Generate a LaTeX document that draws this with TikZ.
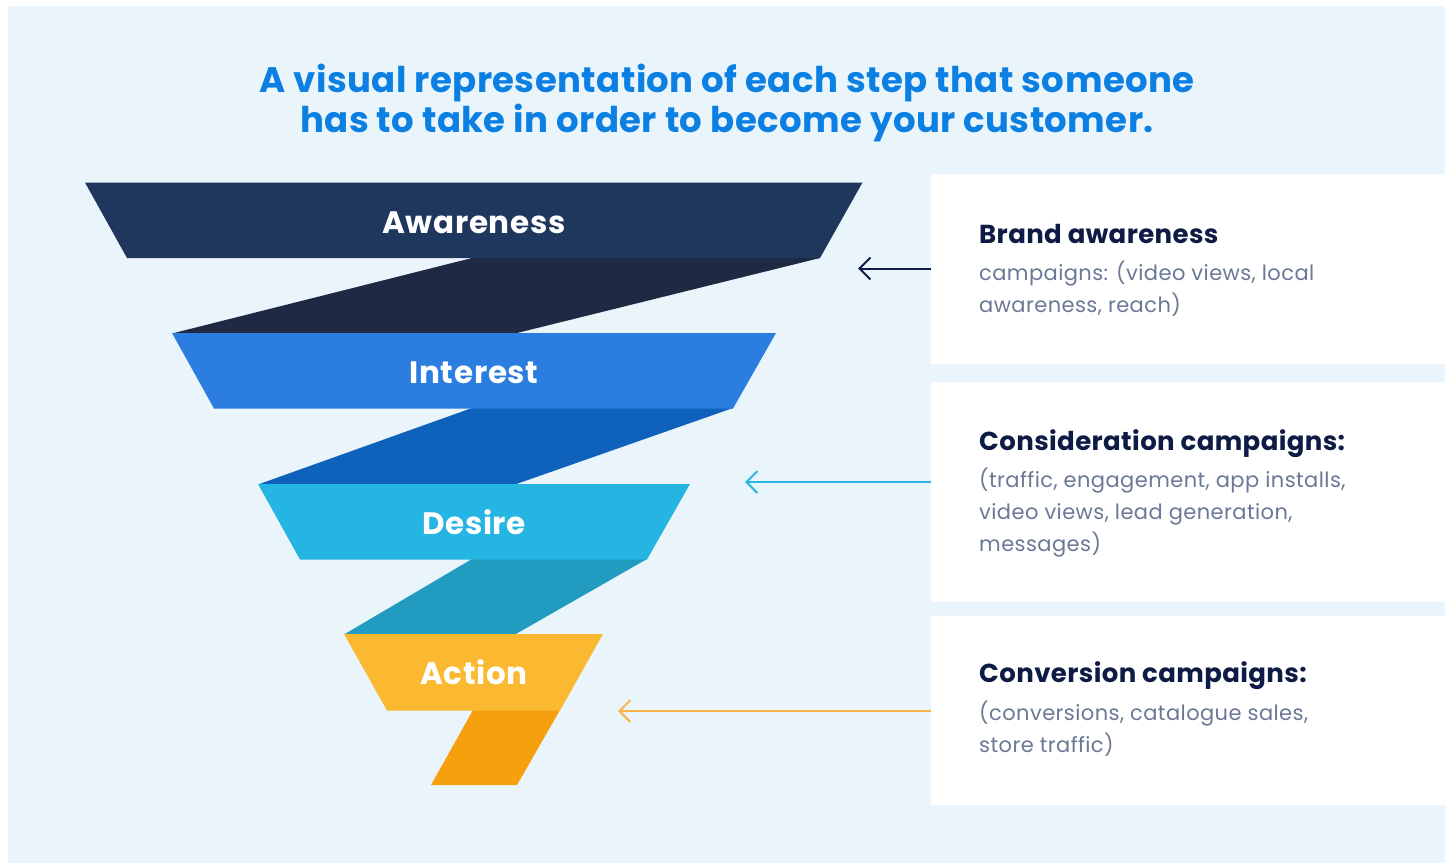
\documentclass[tikz,border=0pt]{standalone}
\usepackage{fontspec}
\setmainfont{Poppins}
\usetikzlibrary{arrows.meta}
\definecolor{bgblue}{HTML}{EAF4FB}
\definecolor{titleblue}{HTML}{0B80E2}
\definecolor{awcol}{HTML}{1F365D}
\definecolor{rib1}{HTML}{202944}
\definecolor{incol}{HTML}{2B7DE0}
\definecolor{rib2}{HTML}{0E62BC}
\definecolor{decol}{HTML}{25B5E3}
\definecolor{rib3}{HTML}{219BC0}
\definecolor{accol}{HTML}{FAB931}
\definecolor{rib4}{HTML}{F5A00C}
\definecolor{headcol}{HTML}{0D1B45}
\definecolor{bodycol}{HTML}{6B7896}
\definecolor{arr1}{HTML}{0D1B45}
\definecolor{arr2}{HTML}{2BB6E2}
\definecolor{arr3}{HTML}{F9B54A}
\begin{document}
\begin{tikzpicture}[x=1pt,y=-1pt,
  titletext/.style={anchor=base,inner sep=0pt,text=titleblue,font=\fontsize{35.5}{40}\selectfont\bfseries\addfontfeature{LetterSpace=1.2}},
  stagetext/.style={anchor=base,inner sep=0pt,text=white,font=\fontsize{31}{36}\selectfont\bfseries\addfontfeature{LetterSpace=2.3}},
  headtext/.style={anchor=base west,inner sep=0pt,text=headcol,font=\fontsize{26}{32}\selectfont\bfseries\addfontfeature{LetterSpace=1.5}},
  bodytext/.style={anchor=base west,inner sep=0pt,text=bodycol,font=\fontsize{21}{32}\selectfont\addfontfeature{LetterSpace=2}},
  infobox/.style={draw=none,fill=white,inner sep=0pt},
  pointer/.style={line width=2pt,-{Straight Barb[length=11pt,width=22pt,line width=2pt]}}
]
\useasboundingbox (0,0) rectangle (1451,863);
\fill[white] (0,0) rectangle (1451,863);
\fill[bgblue] (8,6) rectangle (1445,863);

% title
\node[titletext] (t1) at (727,92) {A visual representation of each step that someone};
\node[titletext] (t2) at (727,132) {has to take in order to become your customer.};

% ribbons
\fill[rib1] (472,258) -- (820,258) -- (515,333.5) -- (172,333.5) -- cycle;
\fill[rib2] (472,408) -- (733,408) -- (515,484.5) -- (258,484.5) -- cycle;
\fill[rib3] (472,559) -- (647,559) -- (515,634.5) -- (344,634.5) -- cycle;
\fill[rib4] (473,710) -- (560,710) -- (517,785) -- (431,785) -- cycle;

% stages
\fill[awcol] (85,182.5) -- (862.5,182.5) -- (820,258) -- (127,258) -- cycle;
\fill[incol] (172,333) -- (776,333) -- (733,408.5) -- (214,408.5) -- cycle;
\fill[decol] (258,484) -- (690,484) -- (647,559.5) -- (300,559.5) -- cycle;
\fill[accol] (344,634) -- (603,634) -- (560,710.5) -- (387,710.5) -- cycle;

\node[stagetext] (aw) at (474,233) {Awareness};
\node[stagetext] (in) at (474,383) {Interest};
\node[stagetext] (de) at (474,534) {Desire};
\node[stagetext] (ac) at (474,684) {Action};

% boxes
\node[infobox,minimum width=514pt,minimum height=190pt,anchor=north west] (b1) at (931,174) {};
\node[infobox,minimum width=514pt,minimum height=220pt,anchor=north west] (b2) at (931,382) {};
\node[infobox,minimum width=514pt,minimum height=189pt,anchor=north west] (b3) at (931,616) {};

\node[headtext] (h1) at (979,243) {Brand awareness};
\node[bodytext] (l11) at (979,280) {campaigns: (video views, local};
\node[bodytext] (l12) at (979,312) {awareness, reach)};

\node[headtext] (h2) at (979,450) {Consideration campaigns:};
\node[bodytext] (l21) at (979,487.5) {(traffic, engagement, app installs,};
\node[bodytext] (l22) at (979,519.5) {video views, lead generation,};
\node[bodytext] (l23) at (979,551.5) {messages)};

\node[headtext] (h3) at (979,682) {Conversion campaigns:};
\node[bodytext] (l31) at (979,720.5) {(conversions, catalogue sales,};
\node[bodytext] (l32) at (979,752.5) {store traffic)};

% arrows
\coordinate (e1) at (858,268.5);
\coordinate (e2) at (745,482);
\coordinate (e3) at (618,711);
\draw[pointer,arr1] (b1.west |- e1) -- (e1);
\draw[pointer,arr2] (b2.west |- e2) -- (e2);
\draw[pointer,arr3] (b3.west |- e3) -- (e3);
\end{tikzpicture}
\end{document}
